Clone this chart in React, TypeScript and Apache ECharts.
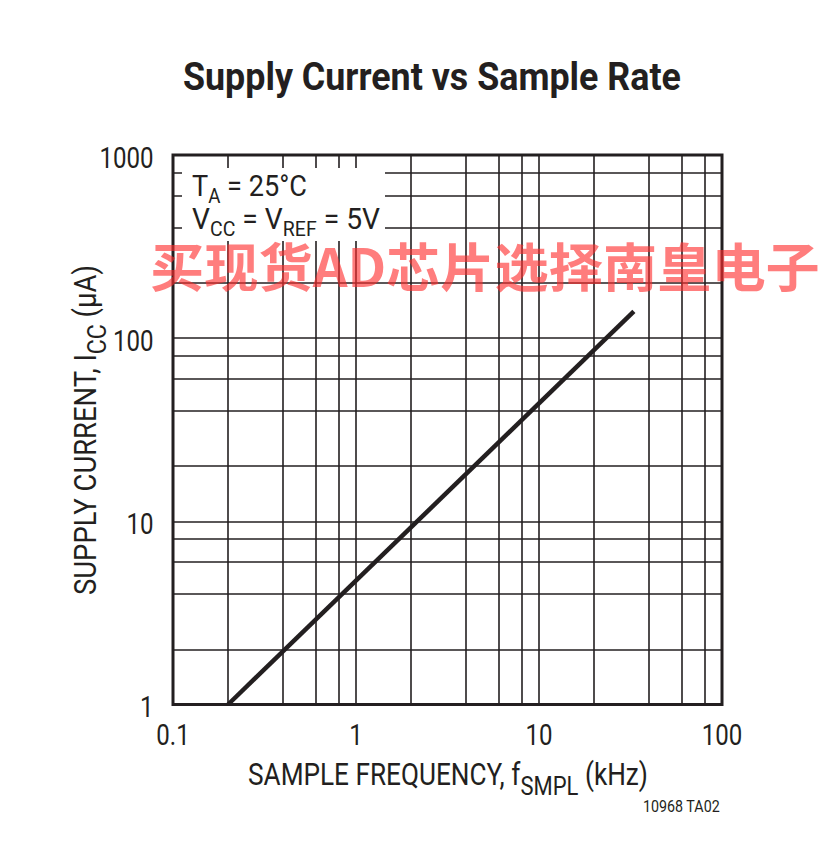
import React, { useEffect, useRef } from "react";
import * as echarts from "echarts";

const FONT = "Roboto";
const CJK_FONT = "'Noto Sans CJK SC'";

const title = "Supply Current vs Sample Rate";
const xTickValues = [0.1, 1, 10, 100];
const yTickValues = [1, 10, 100, 1000];
const xMinorGrid = [0.2, 0.4, 0.6, 0.8, 2, 4, 6, 8, 20, 40, 60, 80];
const yMinorGrid = [2, 4, 6, 8, 20, 40, 60, 80, 200, 400, 600, 800];
const sampleFreqKHz = [0.2, 33];
const supplyCurrentUA = [1, 140];
const watermark = "买现货AD芯片选择南皇电子";
const footnote = "10968 TA02";
const xName = [{ t: "SAMPLE FREQUENCY, f" }, { t: "SMPL", sub: true }, { t: " (kHz)" }];
const yName = [{ t: "SUPPLY CURRENT, I" }, { t: "CC", sub: true }, { t: " (µA)" }];
const note1 = [{ t: "T" }, { t: "A", sub: true }, { t: " = 25°C" }];
const note2 = [{ t: "V" }, { t: "CC", sub: true }, { t: " = V" }, { t: "REF", sub: true }, { t: " = 5V" }];

const INK = "#231f20";

type Part = { t: string; sub?: boolean };

let ctx: CanvasRenderingContext2D | null = null;
function measure(text: string, size: number, weight = "normal", family = FONT) {
  if (!ctx) ctx = document.createElement("canvas").getContext("2d");
  if (!ctx) return text.length * size * 0.55;
  ctx.font = `${weight} ${size}px ${family}`;
  return ctx.measureText(text).width;
}

type LabelOpts = {
  x: number;
  y: number;
  size: number;
  subSize?: number;
  subDy?: number;
  weight?: string;
  family?: string;
  targetWidth?: number;
  scale?: number;
  align?: "left" | "center" | "right";
  rotation?: number;
  z?: number;
  fill?: string;
};

function label(parts: Part[], o: LabelOpts) {
  const weight = o.weight || "normal";
  const family = o.family || FONT;
  const subSize = o.subSize || o.size * 0.75;
  const subDy = o.subDy || 0;
  let cx = 0;
  const items = parts.map((p) => {
    const fs = p.sub ? subSize : o.size;
    const w = measure(p.t, fs, weight, family);
    const item = { p, fs, x: cx };
    cx += w;
    return item;
  });
  const width = cx;
  const s = o.targetWidth ? o.targetWidth / width : o.scale || 1;
  const off = o.align === "center" ? -width / 2 : o.align === "right" ? -width : 0;
  return {
    type: "group",
    x: o.x,
    y: o.y,
    scaleX: s,
    scaleY: 1,
    rotation: o.rotation || 0,
    children: items.map((it) => ({
      type: "text",
      z: o.z ?? 101,
      x: it.x + off,
      y: it.p.sub ? subDy : 0,
      style: {
        text: it.p.t,
        fontSize: it.fs,
        fontFamily: family,
        fontWeight: weight,
        fill: o.fill || INK,
        textAlign: "left",
        textVerticalAlign: "middle",
      },
    })),
  };
}

export default function App() {
  const ref = useRef<HTMLDivElement>(null);
  useEffect(() => {
    if (!ref.current) return;
    const chart = echarts.init(ref.current, null, { renderer: "svg" });
    chart.setOption({
      animation: false,
      backgroundColor: "#ffffff",
      grid: {
        left: 173,
        right: 110,
        top: 155,
        bottom: 142.5,
        show: true,
        borderColor: INK,
        borderWidth: 3,
        backgroundColor: "transparent",
        z: 5,
      },
      xAxis: {
        type: "log",
        logBase: 10,
        min: 0.1,
        max: 100,
        axisLine: { show: false },
        axisTick: { show: false },
        axisLabel: { show: false },
        splitLine: { show: true, lineStyle: { color: INK, width: 1.6 } },
      },
      yAxis: {
        type: "log",
        logBase: 10,
        min: 1,
        max: 1000,
        axisLine: { show: false },
        axisTick: { show: false },
        axisLabel: { show: false },
        splitLine: { show: true, lineStyle: { color: INK, width: 1.6 } },
      },
      series: [
        {
          type: "line",
          data: [],
          z: 1,
          silent: true,
          markLine: {
            silent: true,
            symbol: ["none", "none"],
            label: { show: false },
            lineStyle: { type: "solid", color: INK, width: 1.6 },
            data: [
              ...xMinorGrid.map((v) => ({ xAxis: v })),
              ...yMinorGrid.map((v) => ({ yAxis: v })),
            ],
          },
        },
        {
          type: "line",
          z: 3,
          symbol: "none",
          silent: true,
          data: sampleFreqKHz.map((f, i) => [f, supplyCurrentUA[i]]),
          lineStyle: { color: INK, width: 4.5 },
        },
      ],
    });

    const fmt = (v: number) => String(Number(v.toPrecision(3)));
    const gridLeft = chart.convertToPixel({ xAxisIndex: 0 }, xTickValues[0]) as number;
    const gridBottom = chart.convertToPixel({ yAxisIndex: 0 }, yTickValues[0]) as number;
    const TICK_SCALE = 0.83;
    const TICK_SIZE = 29;

    const xTickLabels = xTickValues.map((v) =>
      label([{ t: fmt(v) }], {
        x: chart.convertToPixel({ xAxisIndex: 0 }, v) as number,
        y: gridBottom + 30.5,
        size: TICK_SIZE,
        scale: TICK_SCALE,
        align: "center",
      })
    );
    const yTickLabels = yTickValues.map((v) =>
      label([{ t: fmt(v) }], {
        x: gridLeft - 19.5,
        y: (chart.convertToPixel({ yAxisIndex: 0 }, v) as number) + 3,
        size: TICK_SIZE,
        scale: TICK_SCALE,
        align: "right",
      })
    );

    chart.setOption({
      graphic: [
        {
          type: "rect",
          z: 100,
          shape: { x: 182, y: 168, width: 203, height: 73 },
          style: { fill: "#ffffff" },
        },
        label([{ t: title }], {
          x: 183,
          y: 76.5,
          size: 39,
          weight: "bold",
          targetWidth: 498,
          align: "left",
        }),
        label(note1, { x: 192, y: 186.5, size: 29, subSize: 20, subDy: 10, targetWidth: 115 }),
        label(note2, { x: 192, y: 219, size: 29, subSize: 20, subDy: 10, targetWidth: 188 }),
        label(xName, {
          x: 448,
          y: 774.5,
          size: 31,
          subSize: 26,
          subDy: 12,
          targetWidth: 400,
          align: "center",
        }),
        label(yName, {
          x: 85,
          y: 430,
          size: 31,
          subSize: 26,
          subDy: 12,
          targetWidth: 330,
          align: "center",
          rotation: Math.PI / 2,
        }),
        ...xTickLabels,
        ...yTickLabels,
        label([{ t: footnote }], {
          x: 720,
          y: 806,
          size: 17,
          targetWidth: 77,
          align: "right",
        }),
        label([{ t: watermark }], {
          x: 485,
          y: 264,
          size: 52,
          weight: "bold",
          family: CJK_FONT,
          targetWidth: 670,
          align: "center",
          z: 200,
          fill: "rgba(255, 45, 45, 0.62)",
        }),
      ],
    });
    return () => chart.dispose();
  }, []);
  return (
    <div
      ref={ref}
      style={{ position: "fixed", left: 0, top: 0, width: 832, height: 847, background: "#fff" }}
    />
  );
}
